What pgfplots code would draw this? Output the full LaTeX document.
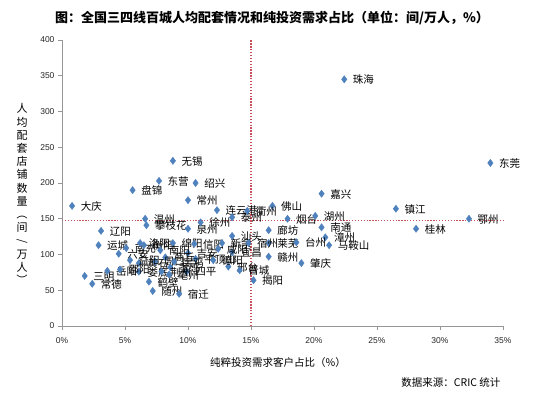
\documentclass[border=0pt]{standalone}
\usepackage{pgfplots}
\pgfplotsset{compat=1.18}
\usepackage{fontspec}
\setmainfont{Liberation Sans}
\newfontfamily\cjk{Noto Sans CJK SC}
\definecolor{mk}{RGB}{79,129,189}
\definecolor{rl}{RGB}{200,80,90}
\definecolor{ax}{RGB}{150,150,150}
\begin{document}
\begin{tikzpicture}[x=1pt,y=1pt]
\path[use as bounding box] (0,0) rectangle (560,396);
\begin{axis}[at={(62pt,70pt)}, anchor=south west, scale only axis,
  width=441pt, height=286pt,
  xmin=0, xmax=35, ymin=0, ymax=400,
  axis x line*=bottom, axis y line*=left,
  axis line style={ax, line width=0.8pt},
  tick style={ax, line width=0.8pt},
  tick align=outside, major tick length=4pt,
  xtick={0,5,...,35}, ytick={0,50,...,400},
  xticklabels={0\%,5\%,10\%,15\%,20\%,25\%,30\%,35\%},
  yticklabels={0,50,100,150,200,250,300,350,400},
  ticklabel style={font=\fontsize{8.5}{9}\selectfont, text=black!85},
  xticklabel style={yshift=-4pt},
  clip=false,
]
\addplot[rl, line width=1.3pt, dash pattern=on 1.3pt off 1.6pt] coordinates {(0,148) (35,148)};
\addplot[rl, line width=1.3pt, dash pattern=on 1.3pt off 1.6pt] coordinates {(15,0) (15,400)};
\addplot[only marks, mark=diamond*, mark size=3.6pt, mark options={fill=mk, draw=mk},
  point meta=explicit symbolic, nodes near coords,
  nodes near coords style={anchor=west, inner sep=1pt, xshift=7.5pt, yshift=-0.5pt,
    font=\cjk\fontsize{10.5}{11}\selectfont, text=black}]
coordinates {
(22.4,345)[珠海]
(34.0,228)[东莞]
(26.5,164)[镇江]
(32.3,150)[鄂州]
(28.1,136)[桂林]
(20.6,185)[嘉兴]
(16.7,168)[佛山]
(17.9,150)[烟台]
(20.1,154)[湖州]
(20.6,138)[南通]
(16.4,134)[廊坊]
(16.4,116)[莱芜]
(16.4,97)[赣州]
(19.0,88)[肇庆]
(20.9,124)[漳州]
(21.2,113)[马鞍山]
(18.6,117)[台州]
(15.2,64)[揭阳]
(0.8,168)[大庆]
(8.8,231)[无锡]
(7.7,203)[东营]
(10.6,200)[绍兴]
(5.6,190)[盘锦]
(10.0,176)[常州]
(12.3,162)[连云港]
(6.6,150)[温州]
(3.1,133)[辽阳]
(6.7,141)[攀枝花]
(10.0,136)[泉州]
(11.0,145)[徐州]
(13.5,152)[泰州]
(14.7,161)[衢州]
(2.9,113)[运城]
(1.8,70)[三明]
(2.4,59)[常德]
(3.6,77)[岳阳]
(4.5,101)[六安]
(5.1,109)[南充]
(6.1,88)[黄石]
(6.1,76)[娄底]
(6.5,113)[衡阳]
(6.9,62)[鹤壁]
(7.2,49)[随州]
(6.2,116)[洛阳]
(8.8,116)[绵阳]
(10.5,115)[信阳]
(12.7,116)[新余]
(13.5,126)[汕头]
(13.5,103)[宜昌]
(13.2,83)[邢台]
(14.1,78)[晋城]
(10.6,94)[平顶山]
(9.9,76)[四平]
(9.3,45)[宿迁]
(10.0,102)[吉安]
(14.8,116)[宿州]
(7.8,106)[南阳]
(8.2,96)[商丘]
(7.4,90)[周口]
(8.6,82)[孝感]
(8.9,90)[宝鸡]
(7.9,76)[荆州]
(8.5,72)[亳州]
(5.4,92)[益阳]
(4.6,79)[邵阳]
(12.0,92)[德阳]
(12.4,108)[咸阳]
};
\end{axis}
\node[font=\cjk\bfseries\fontsize{13}{14}\selectfont] at (272,378) {图：全国三四线百城人均配套情况和纯投资需求占比（单位：间/万人，\%）};
\node[font=\cjk\fontsize{10.5}{11}\selectfont] at (278,33) {纯粹投资需求客户占比（\%）};
\node[font=\cjk\fontsize{10.5}{11}\selectfont, anchor=east] at (504,13) {数据来源：CRIC 统计};
\node[font=\cjk\fontsize{11}{13.2}\selectfont, align=center] at (22,201) {人\\均\\配\\套\\店\\铺\\数\\量\\%
\raisebox{0pt}[0.85em][0.15em]{\rotatebox[origin=c]{-90}{（}}\\间\\%
\raisebox{0pt}[0.85em][0.15em]{\rotatebox[origin=c]{90}{/}}\\万\\人\\%
\raisebox{0pt}[0.85em][0.15em]{\rotatebox[origin=c]{-90}{）}}};
\end{tikzpicture}
\end{document}
